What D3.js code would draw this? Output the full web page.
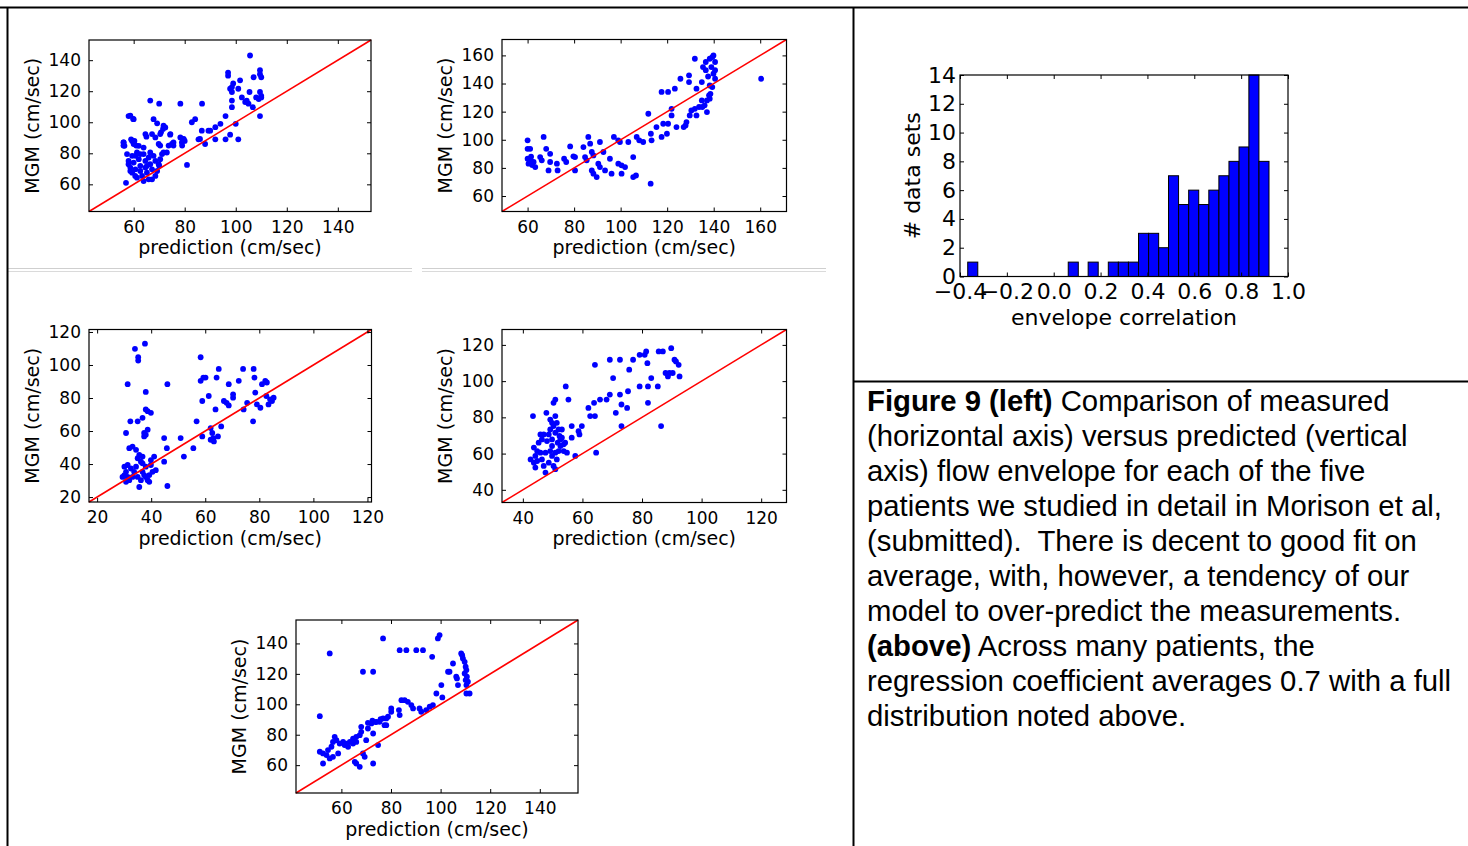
<!DOCTYPE html>
<html><head><meta charset="utf-8">
<script src="https://cdn.jsdelivr.net/npm/d3@7"></script>
<style>body{margin:0;background:#fff}</style>
</head><body><svg id="c" width="1468" height="846"></svg>
<script>
// ---------------- DATA ----------------
const panel1Points = [[57,61],[56,87],[56,85],[58,104],[60,102],[59,89],[60.3,88],[61,85],[58.7,104.3],[59.8,102.1],[56.1,87],[56.4,84.8],[59.4,88],[60,86],[62,84.8],[63.9,83.7],[64.6,92.4],[65,90.7],[67.8,102],[69.2,99.3],[67.2,92.4],[68.5,90.2],[69.8,86],[70.7,93.5],[71.5,95.7],[70.4,92.4],[71.7,97.8],[72.4,96.7],[74.4,92.4],[75,86],[75.6,87],[78.3,90.2],[78.9,87],[79.6,89.2],[73,80.5],[71.1,79.5],[70.4,76.2],[69.8,73],[69.2,68.6],[80.9,72.5],[86,89.2],[89.3,94.6],[88,86],[78.3,112],[86.8,112],[82.8,100],[84.1,102],[58,75.1],[58.7,70.8],[59.4,67.5],[60,74],[60.7,78.4],[61.3,80.5],[62,76.2],[62.6,71.9],[62.6,68.6],[63.3,65.4],[63.9,79.5],[64.6,75.1],[64.6,70.8],[65.2,67.5],[65.9,77.3],[65.9,63.2],[66.5,73],[67.2,69.7],[67.2,63.2],[67.8,78.4],[68.5,75.1],[61.3,64.3],[59.4,78.4],[63.9,62.1],[60.7,69.7],[66.5,80.5],[62.6,79.5],[68.5,65.4],[65.2,71.9],[57.4,79.5],[58,73],[58.7,68.6],[60.6,65.4],[66.5,114],[70,112],[70.4,85],[73.7,85],[74.3,92],[75.6,85],[71.7,80.5],[70,72],[79.5,89],[80,88],[79,85],[85.4,89],[86.7,94.6],[90,94.6],[92,96.8],[92,89],[94,99],[96,104],[96,89],[97.8,92],[97,132],[97,130],[97.8,121.6],[98.5,122.7],[98.5,119.5],[99,125],[98.5,114],[98.5,109.7],[100,99],[101,89],[101,121.6],[101.7,127],[102.4,116],[103.7,113],[104.3,114],[105,112],[105.6,143],[105.4,119.5],[107,129],[106.7,109.7],[108,116],[109,115],[109.5,133.5],[109.5,131],[110,129],[109.5,119.5],[110,117],[110,116],[109.5,104]];
const panel2Points = [[60,99.6],[60,93.6],[61.1,93.6],[60,86.5],[61.1,85.4],[62.6,84.2],[60.4,83],[63.3,80.6],[65.4,87.7],[66.1,85.4],[66.9,102],[68,93.6],[69.7,90],[69.7,84.2],[69,78.2],[72.6,83],[72.9,78.2],[75.7,86.5],[76.6,84.2],[78.3,95.3],[79.7,88.2],[80.4,87.7],[80.4,78.2],[84,94.8],[84.7,87.7],[85.4,85.4],[86.1,102],[86.9,97.2],[87.6,91.3],[88.3,88.9],[87.6,78.2],[88.3,75.9],[89.7,73.5],[91.1,98.4],[90.4,83],[91.1,80.6],[92.6,91.3],[93.3,78.2],[95.4,86.5],[96.1,75.9],[97.1,102],[99,99.6],[99.7,98.4],[99,83],[100.4,81.8],[100.4,75.9],[101.9,80.6],[103.3,98.4],[105.4,87.7],[105.4,73.5],[106.6,74.6],[106.9,102],[108,99.6],[109.7,98.4],[111.9,118.5],[113,104.3],[113.3,99.6],[112.9,68.8],[115.4,109],[117.6,102],[118.3,111.4],[117.6,134],[120.4,134],[119.9,104.3],[120.4,111.4],[121.9,122],[121.9,117.3],[123.3,136.3],[124,109],[125.7,143.4],[127.1,109],[127.9,110.2],[128.3,112.6],[129.4,145.8],[129.4,141],[129.7,117.3],[130.4,120.8],[131.9,122],[131.9,157.6],[132.6,136.3],[132.6,117.3],[133.7,123.3],[135.1,123.3],[136.1,124.5],[134.9,141],[135.4,151.7],[136.6,155.3],[136.6,149.5],[137.1,119.7],[137.1,128],[138,131.6],[138.3,129.2],[138.3,157.6],[139.4,158.8],[139,151.7],[139.9,147],[140.6,143.4],[139.4,137.5],[138.6,132.7],[139.9,160],[140.6,155.3],[140.6,149.5],[137.6,145],[160.4,143.4],[134.9,128],[138.3,138.6],[61.5,88],[62,82]];
const panel3Points = [[30.7,58.8],[31.3,88.4],[34,109.8],[37.7,112.9],[35.2,104.7],[35.2,102.7],[32.3,65.9],[35,65.9],[36.8,68],[38,83.7],[38,73.1],[38.7,72],[39.9,71],[37.4,58.8],[38,57.8],[38.7,60.8],[37.4,56.7],[31.9,49.6],[33.1,50.6],[34.4,48.6],[35.6,45.5],[36.8,44.5],[30.1,38.4],[31.3,39.4],[32.5,37.3],[30.1,33.3],[31.3,32.2],[30.7,29.2],[33.7,35.3],[35,32.2],[36.2,30.2],[37.4,33.3],[35.6,26.1],[38.7,30.2],[39.3,33.3],[40.5,35.3],[41.7,36.3],[39.9,42.4],[41.1,44.5],[36.8,40.4],[38,38.4],[44.8,55.7],[44.8,41.4],[46,88.4],[45.8,49.6],[46,26.7],[50.9,55.7],[52.1,44.5],[55.6,49.6],[56.8,65.9],[58.3,104.7],[58.3,90.4],[59.3,92.4],[60.1,92.4],[58.9,78.2],[58.9,56.7],[61.3,81.2],[62,61.8],[62.6,58.8],[63,55.7],[63.2,53.7],[62,54.7],[63.8,73.1],[64.2,92.4],[64.7,56.7],[65,97.6],[65.9,62.8],[66.9,78.2],[67.9,77.1],[68.7,75.5],[68.7,88.4],[70.3,82.2],[70.3,80.2],[72.4,90.4],[74,97.6],[74.2,73.1],[77.7,65.9],[77.9,97.6],[78.2,92.4],[78.5,83.3],[79.1,76.1],[80.4,74.1],[81,88.4],[82.2,90.4],[82.8,89.4],[82.6,81.2],[83.4,76.1],[84.7,78.2],[85.3,80.2],[84,79.2],[75.5,77.1],[29.4,32.2],[31.9,30.2],[33.1,32.2],[30.7,35.3],[34.4,38.4],[36.8,35.3],[38,32.2],[39.3,29.2],[35,43.5],[36.2,41.4],[39.9,39.4]];
const panel4Points = [[43.4,80.7],[43.7,63.3],[44.2,58.7],[43.7,55],[44.2,52.3],[44.8,55.9],[45.9,70.6],[46.4,67.8],[47,70.6],[47.9,82.5],[46.4,56.8],[47,53.2],[47.6,49.5],[48.7,70.6],[49.2,78.8],[49.2,73.3],[49.8,67.8],[49.8,64.2],[50.3,88],[50.9,89.8],[50.3,75.2],[50.9,71.5],[50.9,60.5],[51.4,56.8],[50.9,51.4],[51.4,77],[52,73.3],[52.3,69.7],[51.7,66],[52.6,64.2],[53.1,68.8],[53.7,65.1],[53.7,61.4],[54.4,97.1],[55.3,89.8],[54.8,60.5],[56.4,75.2],[56.4,68.8],[57.6,58.7],[58.7,72.4],[59,70.6],[59.8,75.2],[62,85.2],[62.6,80.7],[63.9,88],[64.2,109],[64.2,80.7],[64.6,60.5],[65.9,89.8],[68.1,89.8],[69.2,92.6],[69.2,111.8],[70.3,101.7],[71.2,82.5],[72.6,111.8],[72.6,92.6],[73.1,87.1],[73.1,75.2],[75,85.2],[75.3,94.4],[75.7,106.3],[77,111.8],[79.2,114.5],[80.9,114.5],[81.4,116.4],[79.2,97.1],[81.8,109.9],[82,97.1],[82,88],[83.1,101.7],[85.3,97.1],[85.6,116.4],[86.4,75.2],[87,116.4],[87.9,104.5],[88.7,102.6],[89.2,104.5],[89.8,118.2],[90.3,104.5],[90.9,111.8],[91.4,110.9],[92.3,109],[92.6,102.6],[48.7,55],[49.8,58.7],[50.3,53.2],[52,61.4],[52.6,67.8],[53.1,73.3],[54.2,66],[49.2,61.4],[48.1,66.9],[47.6,60.5],[45.9,60.5],[50.9,80.7],[49.8,77],[44.8,61.4],[45.3,66],[42.6,56.8]];
const panel5Points = [[51.3,92.2],[55.3,133.4],[51.3,68.8],[52.6,67.7],[54,66.6],[52.6,61.1],[54.6,69.9],[56,72.1],[56.6,75.3],[57.3,78.6],[58,76.4],[55.3,64.4],[56.6,65.5],[58.7,67.7],[59.3,74.2],[60.7,75.3],[62,74.2],[63.4,75.3],[61.3,73.2],[62.7,72.1],[64.7,77.5],[66,78.6],[67.4,79.7],[68,81.9],[64.7,74.2],[66,75.3],[65.4,62.2],[66,61.1],[67.4,58.9],[68,85.2],[68.7,121.4],[68.7,67.7],[69.4,65.5],[70,76.4],[70.7,84.1],[72.1,87.4],[74.1,88.5],[75.4,88.5],[72.8,121.4],[72.8,61.1],[72.8,80.8],[74.8,73.2],[76.8,143.3],[76.8,90.7],[78.1,90.7],[78.8,91.8],[78.1,86.3],[80.1,97.3],[80.1,95.1],[83.2,96.2],[83.5,92.9],[83.5,135.6],[84.2,102.7],[85.5,102.7],[86.2,135.6],[86.8,101.6],[88.2,99.5],[88.9,97.3],[90.2,135.6],[92.9,135.6],[91.5,97.3],[92.2,95.1],[94.2,96.2],[95.6,98.4],[96.9,99.5],[96.6,131.2],[98.3,107.1],[98.9,143.3],[99.6,145.5],[100.3,112.6],[100.7,104.5],[103,121.4],[103.6,121.4],[105,126.8],[106.3,118.1],[106.6,117],[107,112.6],[108.3,133.4],[108.7,132.3],[109,130.1],[109.7,127.9],[110.1,124.7],[110.4,122.5],[109.7,120.3],[110.6,118.1],[110.1,115.9],[111,114.8],[110.4,112.6],[110.4,107.1],[111.7,107.1],[70.7,87.8],[72.5,89.2],[73.8,88.3],[75.8,90.2],[77.4,86.3]];

const panel1Domain = [42.5, 153], panel1Ticks = [60, 80, 100, 120, 140];
const panel2Domain = [49, 171.3], panel2Ticks = [60, 80, 100, 120, 140, 160];
const panel3Domain = [17, 121.5], panel3Ticks = [20, 40, 60, 80, 100, 120];
const panel4Domain = [33, 128.5], panel4Ticks = [40, 60, 80, 100, 120];
const panel5Domain = [41.7, 155.4], panel5Ticks = [60, 80, 100, 120, 140];

const histBinStart = [-0.367, 0.062, 0.147, 0.233, 0.276, 0.319, 0.362, 0.405, 0.448, 0.490, 0.533, 0.576, 0.619, 0.662, 0.705, 0.748, 0.791, 0.833, 0.876];
const histCounts   = [1, 1, 1, 1, 1, 1, 3, 3, 2, 7, 5, 6, 5, 6, 7, 8, 9, 14, 8];
const histBinWidth = 0.0429;
const histXDomain = [-0.4, 1.0], histXTicks = [-0.4, -0.2, 0.0, 0.2, 0.4, 0.6, 0.8, 1.0];
const histYDomain = [0, 14], histYTicks = [0, 2, 4, 6, 8, 10, 12, 14];

const scatterXLabel = "prediction (cm/sec)", scatterYLabel = "MGM (cm/sec)";
const histXLabel = "envelope correlation", histYLabel = "# data sets";

const captionLines = [
  [["Figure 9 (left)", true], [" Comparison of measured", false]],
  [["(horizontal axis) versus predicted (vertical", false]],
  [["axis) flow envelope for each of the five", false]],
  [["patients we studied in detail in Morison et al,", false]],
  [["(submitted).  There is decent to good fit on", false]],
  [["average, with, however, a tendency of our", false]],
  [["model to over-predict the measurements.", false]],
  [["(above)", true], [" Across many patients, the", false]],
  [["regression coefficient averages 0.7 with a full", false]],
  [["distribution noted above.", false]]
];

// ---------------- DRAW ----------------
const svg = d3.select('#c');
const FONT = "'DejaVu Sans', sans-serif";

svg.append('rect').attr('width', 1468).attr('height', 846).attr('fill', '#fff');

// decorative grey separator lines under the top panels
[[8, 412], [422, 826]].forEach(([a, b]) => {
  svg.append('line').attr('x1', a).attr('x2', b).attr('y1', 268.5).attr('y2', 268.5).attr('stroke', '#cfcfcf').attr('stroke-width', 1);
  svg.append('line').attr('x1', a).attr('x2', b).attr('y1', 271.5).attr('y2', 271.5).attr('stroke', '#dadada').attr('stroke-width', 1);
});

// table borders
const border = svg.append('g').attr('stroke', '#000').attr('stroke-width', 2);
border.append('line').attr('x1', 0).attr('x2', 1468).attr('y1', 7.5).attr('y2', 7.5);
border.append('line').attr('x1', 7.5).attr('x2', 7.5).attr('y1', 7).attr('y2', 846);
border.append('line').attr('x1', 853.5).attr('x2', 853.5).attr('y1', 7).attr('y2', 846);
border.append('line').attr('x1', 853).attr('x2', 1468).attr('y1', 381.5).attr('y2', 381.5);

function styleAxis(g, size) {
  g.attr('font-family', FONT).attr('font-size', size);
  g.select('.domain').remove();
  g.selectAll('.tick line').attr('stroke', '#000').attr('stroke-width', 1);
  g.selectAll('.tick text').attr('fill', '#000');
}

function frameAndTicks(g, x, y, L, xt, yt, xfmt, yfmt, size, padX, padY) {
  const bx = g.append('g').attr('transform', `translate(0,${L.b})`)
    .call(d3.axisBottom(x).tickValues(xt).tickFormat(xfmt).tickSize(-4).tickPadding(padX));
  styleAxis(bx, size);
  const tx = g.append('g').attr('transform', `translate(0,${L.t})`)
    .call(d3.axisTop(x).tickValues(xt).tickFormat('').tickSize(-4));
  styleAxis(tx, size);
  const ly = g.append('g').attr('transform', `translate(${L.l},0)`)
    .call(d3.axisLeft(y).tickValues(yt).tickFormat(yfmt).tickSize(-4).tickPadding(padY));
  styleAxis(ly, size);
  const ry = g.append('g').attr('transform', `translate(${L.r},0)`)
    .call(d3.axisRight(y).tickValues(yt).tickFormat('').tickSize(-4));
  styleAxis(ry, size);
  g.append('rect').attr('x', L.l).attr('y', L.t).attr('width', L.r - L.l).attr('height', L.b - L.t)
    .attr('fill', 'none').attr('stroke', '#000').attr('stroke-width', 1.2);
}

function scatter(L, pts, dom, ticks) {
  const x = d3.scaleLinear().domain(dom).range([L.l, L.r]);
  const y = d3.scaleLinear().domain(dom).range([L.b, L.t]);
  const g = svg.append('g');
  g.append('g').selectAll('circle').data(pts).join('circle')
    .attr('cx', d => x(d[0])).attr('cy', d => y(d[1])).attr('r', 2.9).attr('fill', '#0000ff');
  g.append('line').attr('x1', x(dom[0])).attr('y1', y(dom[0])).attr('x2', x(dom[1])).attr('y2', y(dom[1]))
    .attr('stroke', '#ff0000').attr('stroke-width', 1.6);
  const fmt = d3.format('d');
  frameAndTicks(g, x, y, L, ticks, ticks, fmt, fmt, 17, 9, 8);
  g.append('text').attr('x', (L.l + L.r) / 2).attr('y', L.b + 42.5).attr('text-anchor', 'middle')
    .attr('font-family', FONT).attr('font-size', 19).attr('fill', '#000').text(scatterXLabel);
  g.append('text').attr('transform', `translate(${L.l - 50},${(L.t + L.b) / 2}) rotate(-90)`)
    .attr('text-anchor', 'middle').attr('font-family', FONT).attr('font-size', 19).attr('fill', '#000').text(scatterYLabel);
}

scatter({l: 89, r: 371, t: 40, b: 211.5}, panel1Points, panel1Domain, panel1Ticks);
scatter({l: 502, r: 786.5, t: 39.5, b: 211.5}, panel2Points, panel2Domain, panel2Ticks);
scatter({l: 89, r: 371.5, t: 329.5, b: 502}, panel3Points, panel3Domain, panel3Ticks);
scatter({l: 502, r: 786.5, t: 329.5, b: 502.5}, panel4Points, panel4Domain, panel4Ticks);
scatter({l: 296, r: 578, t: 620, b: 793}, panel5Points, panel5Domain, panel5Ticks);

// histogram
(function () {
  const L = {l: 960, r: 1288, t: 75, b: 276.5};
  const x = d3.scaleLinear().domain(histXDomain).range([L.l, L.r]);
  const y = d3.scaleLinear().domain(histYDomain).range([L.b, L.t]);
  const g = svg.append('g');
  const bins = histBinStart.map((s, i) => ({x0: s, x1: s + histBinWidth, n: histCounts[i]}));
  g.append('g').selectAll('rect').data(bins).join('rect')
    .attr('x', d => x(d.x0)).attr('width', d => x(d.x1) - x(d.x0))
    .attr('y', d => y(d.n)).attr('height', d => y(0) - y(d.n))
    .attr('fill', '#0000ff').attr('stroke', '#000').attr('stroke-width', 1);
  const xfmt = d => d3.format('.1f')(d).replace('-', '\u2212');
  frameAndTicks(g, x, y, L, histXTicks, histYTicks, xfmt, d3.format('d'), 22, 7, 4);
  g.append('text').attr('x', (L.l + L.r) / 2).attr('y', L.b + 48).attr('text-anchor', 'middle')
    .attr('font-family', FONT).attr('font-size', 22).attr('fill', '#000').text(histXLabel);
  g.append('text').attr('transform', `translate(${L.l - 40},${(L.t + L.b) / 2}) rotate(-90)`)
    .attr('text-anchor', 'middle').attr('font-family', FONT).attr('font-size', 22).attr('fill', '#000').text(histYLabel);
})();

// caption
const cap = svg.append('g').attr('font-family', "'Liberation Sans', Arial, sans-serif").attr('font-size', 29.3).attr('fill', '#000');
captionLines.forEach((parts, i) => {
  const t = cap.append('text').attr('x', 867).attr('y', 411 + 35 * i).style('white-space', 'pre');
  parts.forEach(([s, b]) => t.append('tspan').attr('font-weight', b ? 'bold' : 'normal').text(s));
});
</script>
</body></html>
